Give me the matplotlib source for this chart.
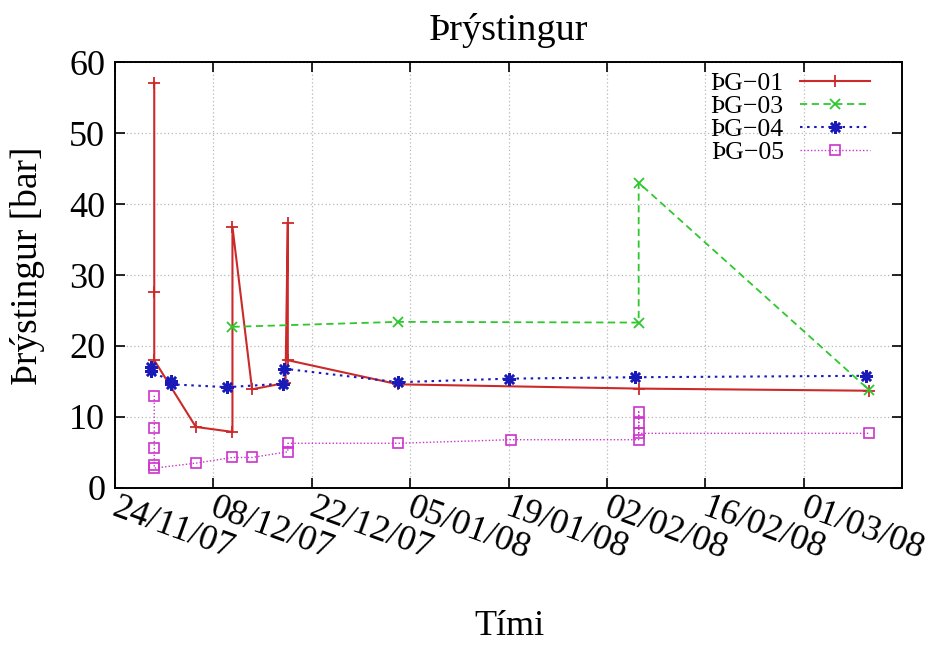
import matplotlib
matplotlib.use("Agg")
import matplotlib.pyplot as plt
import matplotlib.transforms as mtransforms
import pandas as pd

plt.rcParams['font.family'] = ['Liberation Serif', 'DejaVu Serif']

# ÞG-01
d01 = ['2007-11-29 14:00', '2007-11-29 14:00', '2007-11-29 14:00', '2007-12-05 12:00',
       '2007-12-10 17:00', '2007-12-10 17:00', '2007-12-13 12:00', '2007-12-18 06:00',
       '2007-12-18 14:00', '2007-12-18 14:00', '2008-01-03 07:00', '2008-02-06 12:00',
       '2008-03-10 07:00']
v01 = [57.1, 27.6, 18.0, 8.6, 7.9, 36.8, 13.9, 14.8, 37.3, 18.0, 14.6, 14.0, 13.7]

# ÞG-03
d03 = ['2007-12-10 17:00', '2008-01-03 07:00', '2008-02-06 12:00', '2008-02-06 12:00',
       '2008-03-10 07:00']
v03 = [22.7, 23.4, 23.3, 43.0, 13.8]

# ÞG-04
d04 = ['2007-11-29 02:00', '2007-11-29 02:00', '2007-12-02 00:00', '2007-12-02 00:00',
       '2007-12-10 00:00', '2007-12-17 22:00', '2007-12-18 02:00', '2008-01-03 07:00',
       '2008-01-19 00:00', '2008-02-05 22:00', '2008-03-09 19:00']
v04 = [17.0, 16.5, 15.0, 14.6, 14.2, 14.7, 16.8, 14.9, 15.4, 15.6, 15.8]

# ÞG-05
d05 = ['2007-11-29 14:00', '2007-11-29 14:00', '2007-11-29 14:00', '2007-11-29 14:00',
       '2007-11-29 14:00', '2007-12-05 12:00', '2007-12-10 17:00', '2007-12-13 12:00',
       '2007-12-18 14:00', '2007-12-18 14:00', '2008-01-03 07:00', '2008-01-19 07:00',
       '2008-02-06 12:00', '2008-02-06 12:00', '2008-02-06 12:00', '2008-02-06 12:00',
       '2008-03-10 07:00']
v05 = [13.0, 8.5, 5.7, 3.2, 2.8, 3.5, 4.3, 4.3, 5.1, 6.3, 6.3, 6.8, 6.8, 10.7, 9.1, 7.7, 7.7]

tick_dates = ['2007-11-24', '2007-12-08', '2007-12-22', '2008-01-05', '2008-01-19',
              '2008-02-02', '2008-02-16', '2008-03-01']
tick_labels = ['24/11/07', '08/12/07', '22/12/07', '05/01/08', '19/01/08',
               '02/02/08', '16/02/08', '01/03/08']

fig = plt.figure(figsize=(9.35, 6.46), dpi=100)
ax = fig.add_axes([0.123, 0.2446, 0.842, 0.6594])

ax.plot(pd.to_datetime(d01), v01, color='#cc2a2a', lw=1.5, ls='-', marker='+',
        ms=8, mew=1.3, label='ÞG−01')
ax.plot(pd.to_datetime(d03), v03, color='#2ec82e', lw=1.3, ls=(0, (4, 2.5)), marker='x',
        ms=7, mew=1.3, label='ÞG−03')
ax.plot(pd.to_datetime(d04), v04, color='#1a1ab8', lw=1.5, ls=(0, (1.2, 2.2)), marker=(8, 2, 0),
        ms=9, mew=1.8, label='ÞG−04')
ax.plot(pd.to_datetime(d05), v05, color='#cc33cc', lw=1.0, ls=(0, (1, 1.5)), marker='s',
        ms=7, mew=1.2, mfc='none', label='ÞG−05')

ax.set_xlim(pd.Timestamp('2007-11-24'), pd.Timestamp('2008-03-15'))
ax.set_ylim(0, 60)
ax.set_yticks(range(0, 61, 10))
ax.set_xticks(pd.to_datetime(tick_dates))
ax.set_xticklabels(tick_labels, rotation=-20, ha='left', va='top', rotation_mode='anchor')

ax.tick_params(direction='in', top=True, right=True, length=7, width=1.2,
               labelsize=26, pad=7)
ax.tick_params(axis='x', pad=5)
offset = mtransforms.ScaledTranslation(4 / 100, 3 / 100, fig.dpi_scale_trans)
for lbl in ax.get_xticklabels():
    lbl.set_transform(lbl.get_transform() + offset)
for s in ax.spines.values():
    s.set_linewidth(1.4)

ax.grid(True, color='#b8b8b8', ls=(0, (1, 2)), lw=0.9)

ax.set_title('Þrýstingur', fontsize=27.5, pad=16)
ax.set_ylabel('Þrýstingur [bar]', fontsize=27)
ax.yaxis.set_label_coords(-0.089, 0.521)
fig.text(0.545, 0.004, 'Tími', fontsize=26, ha='center', va='bottom')

leg = ax.legend(loc='upper right', markerfirst=False, frameon=False, fontsize=18.5,
                handlelength=2.7, handletextpad=0.65, labelspacing=0.0,
                borderaxespad=0.1, bbox_to_anchor=(0.975, 1.007))

fig.savefig('out.png', dpi=100)
